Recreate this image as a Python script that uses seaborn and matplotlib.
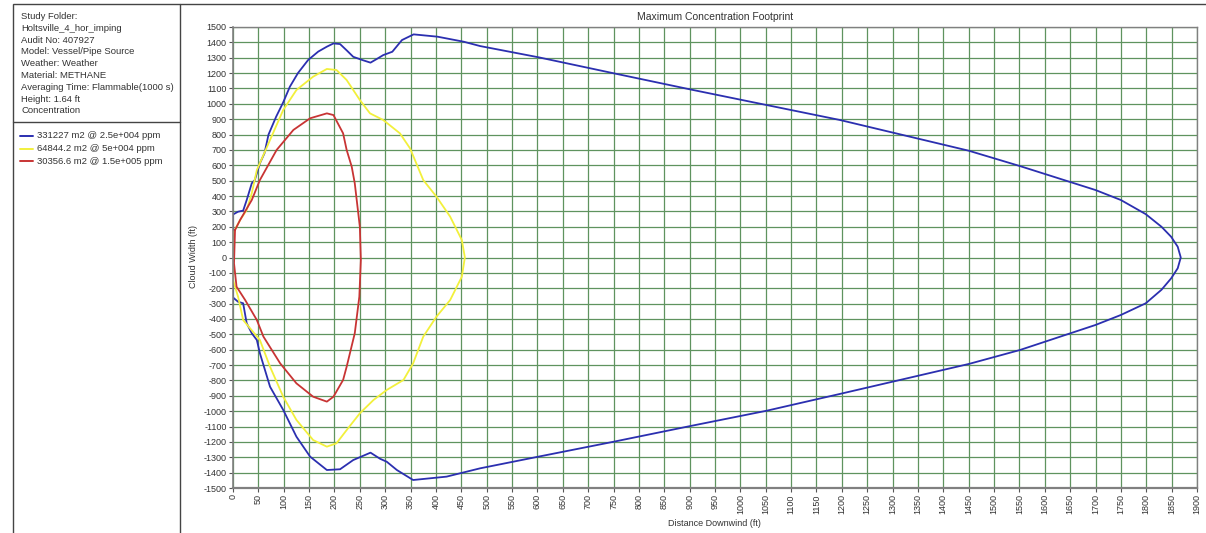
import matplotlib
matplotlib.use("Agg")
import matplotlib.pyplot as plt
import seaborn as sns
import pandas as pd
from matplotlib.patches import Rectangle
from matplotlib.lines import Line2D

# contour outlines (distance ft, width ft)
blue_x = [0, 10, 20, 27, 37, 43, 53, 62, 70, 85, 99, 112, 128, 148, 168, 185, 198, 211, 225, 237,
          255, 271, 285, 296, 314, 333, 356, 403, 455, 487, 602, 750, 901, 1052, 1196, 1450, 1551,
          1700, 1750, 1799, 1830, 1849, 1862, 1868,
          1862, 1849, 1830, 1799, 1750, 1700, 1551, 1450, 1196, 1052, 901, 750, 602, 487, 421, 355,
          323, 303, 290, 271, 237, 211, 185, 152, 125, 99, 73, 53, 47, 37, 27, 20, 10, 0, 0]
blue_y = [280, 298, 305, 374, 483, 504, 613, 678, 800, 916, 1010, 1111, 1200, 1285, 1340, 1372, 1393,
          1389, 1345, 1306, 1285, 1268, 1295, 1317, 1339, 1415, 1452, 1437, 1404, 1376, 1303, 1199,
          1094, 992, 895, 695, 595, 439, 374, 282, 200, 135, 70, 0,
          -70, -136, -210, -298, -374, -439, -602, -693, -888, -997, -1097, -1199, -1296, -1372,
          -1426, -1448, -1383, -1329, -1310, -1270, -1318, -1378, -1383, -1296, -1166, -992, -841,
          -623, -537, -493, -428, -298, -288, -260, 280]

yellow_x = [0, 14, 27, 37, 47, 73, 99, 125, 158, 185, 204, 224, 250, 270, 296, 329, 349, 375, 401,
            428, 451, 457, 451, 428, 401, 375, 355, 336, 303, 277, 250, 224, 204, 185, 158, 125, 99,
            73, 53, 20, 10, 0, 0]
yellow_y = [157, 244, 309, 418, 569, 765, 960, 1090, 1177, 1227, 1220, 1155, 1025, 938, 895, 808,
            710, 504, 396, 266, 114, 0, -125, -277, -385, -515, -689, -797, -862, -927, -1014,
            -1123, -1209, -1231, -1188, -1057, -906, -711, -537, -407, -255, -146, 157]

red_x = [4, 14, 37, 53, 86, 119, 152, 185, 198, 217, 224, 234, 240, 250, 252, 249, 240, 224, 217,
         198, 185, 158, 125, 93, 60, 47, 24, 7, 2, 4]
red_y = [179, 244, 374, 504, 700, 830, 906, 938, 927, 808, 700, 591, 483, 200, -16, -255, -493, -711,
         -797, -906, -938, -906, -819, -689, -515, -407, -277, -190, -38, 179]

legend_labels = ["331227 m2 @ 2.5e+004 ppm", "64844.2 m2 @ 5e+004 ppm", "30356.6 m2 @ 1.5e+005 ppm"]
colors = ["#2b2fb0", "#f2f03c", "#c83434"]

info_lines = ["Study Folder:", "Holtsville_4_hor_imping", "Audit No: 407927",
              "Model: Vessel/Pipe Source", "Weather: Weather", "Material: METHANE",
              "Averaging Time: Flammable(1000 s)", "Height: 1.64 ft", "Concentration"]

sns.set_theme(style="white")
plt.rcParams['font.family'] = ['Liberation Sans', 'DejaVu Sans']
plt.rcParams['axes.unicode_minus'] = False

W, H = 1206, 533
fig = plt.figure(figsize=(W / 100, H / 100), dpi=100)

def fx(px):
    return px / W

def fy(py):
    return 1 - py / H

ax = fig.add_axes([fx(233), fy(488), fx(1197) - fx(233), fy(27) - fy(488)])

for xs, ys, c in zip([blue_x, yellow_x, red_x], [blue_y, yellow_y, red_y], colors):
    df = pd.DataFrame({"x": xs, "y": ys})
    sns.lineplot(data=df, x="x", y="y", sort=False, estimator=None, color=c, linewidth=1.3, ax=ax)

ax.set_xlim(0, 1900)
ax.set_ylim(-1500, 1500)
ax.set_xticks(range(0, 1901, 50))
ax.set_yticks(range(-1500, 1501, 100))
ax.grid(True, color="#5f935f", linewidth=0.9)
ax.set_axisbelow(True)
ax.tick_params(axis="both", labelsize=6.5, length=3, width=0.8, colors="#555555",
               labelcolor="#333333", direction="out", pad=1.5)
ax.tick_params(axis="x", labelrotation=90)
ax.tick_params(bottom=True, left=True)
ax.set_xlabel("")
ax.set_ylabel("")
for side, sp in ax.spines.items():
    sp.set_color("#808080")
    sp.set_linewidth(1.0)
ax.spines["bottom"].set_linewidth(1.6)
ax.spines["left"].set_linewidth(1.2)

fig.text(fx(715), fy(17), "Maximum Concentration Footprint", ha="center", va="center",
         fontsize=7.5, color="#333333")
fig.text(fx(714), fy(524), "Distance Downwind (ft)", ha="center", va="center",
         fontsize=6.5, color="#333333")
fig.text(fx(193), fy(257), "Cloud Width (ft)", ha="center", va="center", rotation=90,
         fontsize=6.5, color="#333333")

# side panel frames
fig.add_artist(Rectangle((fx(13), fy(540)), fx(180) - fx(13), fy(4) - fy(540),
                         fill=False, edgecolor="#444444", linewidth=1.0, transform=fig.transFigure))
fig.add_artist(Line2D([fx(13), fx(180)], [fy(122), fy(122)], color="#444444", linewidth=1.0))
fig.add_artist(Line2D([fx(180), fx(1206)], [fy(4), fy(4)], color="#444444", linewidth=1.0))

for i, line in enumerate(info_lines):
    fig.text(fx(21), fy(16.5 + i * 11.8), line, ha="left", va="center", fontsize=6.8, color="#333333")

for i, (lab, c) in enumerate(zip(legend_labels, colors)):
    yy = fy(136 + i * 12.5)
    fig.add_artist(Line2D([fx(20), fx(33)], [yy, yy], color=c, linewidth=1.4))
    fig.text(fx(37), yy, lab, ha="left", va="center", fontsize=6.8, color="#333333")

fig.savefig("out.png", dpi=100)
